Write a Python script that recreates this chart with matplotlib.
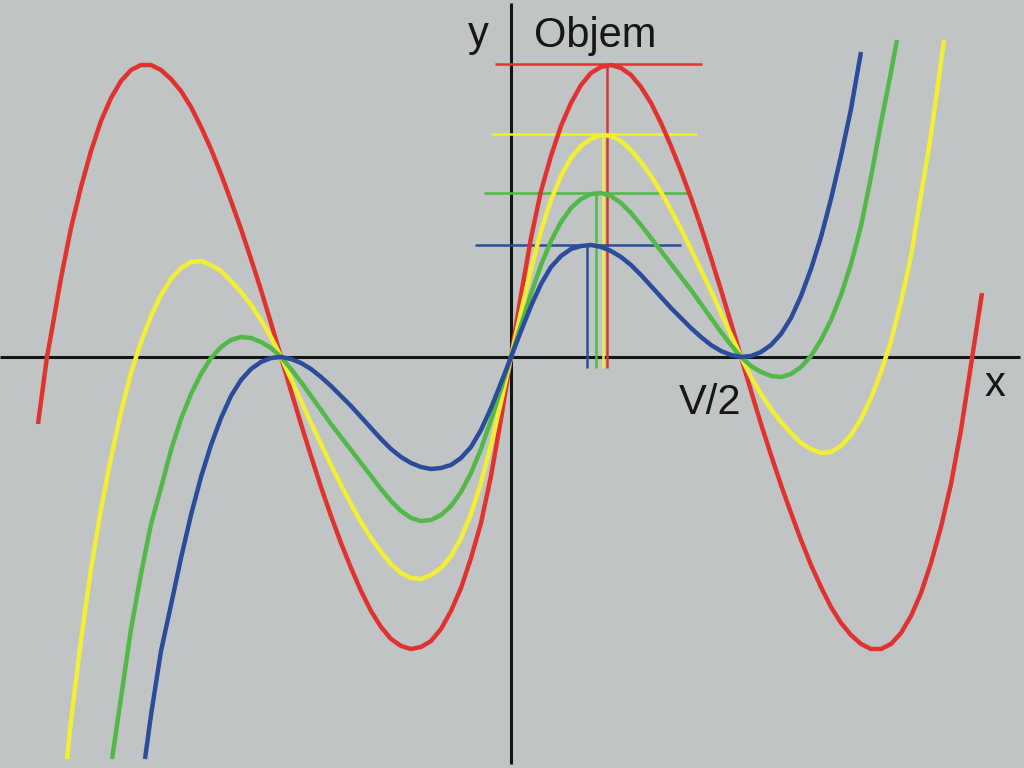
import matplotlib
matplotlib.use("Agg")
import matplotlib.pyplot as plt

# curve samples (x, y in chart units, origin where the axes cross, V/2 at x=230)
red_x = [-473, -464, -460, -450, -440, -430, -420, -410, -400, -390, -380, -370, -360, -350, -340, -330,
         -320, -310, -300, -290, -280, -270, -260, -250, -240, -230, -220, -210, -200, -190, -180, -170,
         -160, -150, -140, -130, -120, -110, -100, -90, -80, -70, -60, -50, -40, -30, -20, -10, 0,
         10, 20, 30, 40, 50, 60, 70, 80, 90, 100, 110, 120, 130, 140, 150, 160, 170, 180, 190, 200,
         210, 220, 230, 240, 250, 260, 270, 280, 290, 300, 310, 320, 330, 340, 350, 360, 370, 380, 390,
         400, 410, 420, 430, 440, 450, 460, 471]
red_y = [-67, 0, 22, 79, 129, 170, 206, 236, 259, 276, 287, 292, 292, 287, 278, 266,
         250, 230, 208, 183, 156, 128, 98, 67, 34, 0, -34, -67, -99, -130, -159, -186,
         -211, -234, -254, -270, -282, -289, -292, -290, -284, -272, -254, -231, -201, -166, -119, -62, 0,
         62, 119, 166, 201, 231, 254, 272, 284, 290, 292, 289, 282, 270, 254, 234, 211, 186, 159, 130, 99,
         67, 34, 0, -34, -67, -98, -128, -156, -183, -208, -230, -250, -266, -278, -287, -292, -292, -287, -276,
         -259, -236, -206, -170, -127, -73, -8, 64]

yellow_x = [-444, -440, -430, -420, -410, -400, -390, -380, -370, -360, -350, -340, -330, -320, -310, -300,
            -290, -280, -270, -260, -250, -240, -230, -220, -210, -200, -190, -180, -170, -160, -150, -140,
            -130, -120, -110, -100, -90, -80, -70, -60, -50, -40, -30, -20, -10, 0,
            10, 20, 30, 40, 50, 60, 70, 80, 90, 100, 110, 120, 130, 140, 150, 160, 170, 180, 190, 200,
            210, 220, 230, 240, 250, 260, 270, 280, 290, 300, 310, 320, 330, 340, 350, 360, 370, 380, 390,
            400, 410, 420, 430, 433]
yellow_y = [-402, -364, -283, -212, -152, -101, -55, -16, 15, 41, 62, 78, 89, 95, 96, 92,
            86, 76, 65, 52, 37, 20, 0, -22, -44, -66, -87, -108, -128, -147, -165, -181,
            -195, -207, -216, -221, -222, -218, -211, -199, -181, -157, -126, -88, -45, 0,
            45, 88, 126, 157, 181, 199, 211, 218, 222, 221, 216, 207, 195, 181, 165, 147, 128, 108, 87, 66,
            44, 22, 0, -20, -37, -52, -65, -76, -86, -92, -96, -95, -89, -78, -62, -41, -15, 16, 55,
            101, 162, 222, 295, 317]

green_x = [-399, -390, -380, -370, -360, -350, -340, -330, -320, -310, -300, -290, -280, -270, -260, -250,
           -240, -230, -220, -210, -200, -190, -180, -170, -160, -150, -140, -130, -120, -110, -100, -90,
           -80, -70, -60, -50, -40, -30, -20, -10, 0,
           10, 20, 30, 40, 50, 60, 70, 80, 90, 100, 110, 120, 130, 140, 150, 160, 170, 180, 190, 200,
           210, 220, 230, 240, 250, 260, 270, 280, 290, 300, 310, 320, 330, 340, 350, 360, 370, 380, 386]
green_y = [-402, -341, -272, -217, -167, -131, -93, -62, -37, -17, -1, 10, 17, 20, 19, 15,
           9, 0, -12, -25, -39, -53, -67, -80, -93, -106, -119, -132, -144, -154, -161, -164,
           -163, -158, -149, -135, -116, -92, -63, -32, 0,
           32, 63, 92, 116, 135, 149, 158, 163, 164, 161, 154, 144, 132, 119, 106, 93, 80, 67, 53, 39,
           25, 12, 0, -9, -15, -19, -20, -17, -10, 1, 17, 37, 62, 93, 131, 180, 234, 285, 317]

blue_x = [-366, -360, -350, -340, -330, -320, -310, -300, -290, -280, -270, -260, -250, -240, -230, -220,
          -210, -200, -190, -180, -170, -160, -150, -140, -130, -120, -110, -100, -90, -80, -70, -60,
          -50, -40, -30, -20, -10, 0,
          10, 20, 30, 40, 50, 60, 70, 80, 90, 100, 110, 120, 130, 140, 150, 160, 170, 180, 190, 200,
          210, 220, 230, 240, 250, 260, 270, 280, 290, 300, 310, 320, 330, 340, 350]
blue_y = [-402, -358, -294, -248, -201, -158, -120, -88, -61, -39, -23, -12, -5, -1, 0, -2,
          -6, -12, -20, -29, -39, -49, -60, -71, -82, -92, -100, -106, -110, -112, -111, -108,
          -101, -90, -73, -51, -26, 0,
          26, 51, 73, 90, 101, 108, 111, 112, 110, 106, 100, 92, 82, 71, 60, 49, 39, 29, 20, 12,
          6, 2, 0, 1, 5, 12, 23, 39, 61, 88, 120, 158, 201, 248, 305]

# maximum markers: peak x, peak y, left and right end of the level line
peak_x = [96, 92, 85, 76]
peak_y = [293, 223, 164, 112]
level_left = [-16, -20, -27, -36]
level_right = [191, 186, 178, 170]

colors = ["#e0322e", "#f2ee34", "#52b848", "#2b4b9b"]
bg = "#c1c4c5"

fig = plt.figure(figsize=(10.24, 7.68), dpi=100, facecolor=bg)
ax = fig.add_axes([0, 0, 1, 1])
ax.set_facecolor(bg)
ax.set_xlim(-511, 513)
ax.set_ylim(-411, 357)
ax.axis("off")

# axes
ax.plot([-511, 509], [0, 0], color="#141414", lw=2.2, solid_capstyle="butt", zorder=1)
ax.plot([0, 0], [-407, 354], color="#141414", lw=2.2, solid_capstyle="butt", zorder=1)

for px, py, l, r, c in zip(peak_x, peak_y, level_left, level_right, colors):
    ax.plot([l, r], [py, py], color=c, lw=1.8, solid_capstyle="butt", zorder=2)
    ax.plot([px, px], [-11, py], color=c, lw=1.8, solid_capstyle="butt", zorder=2)

curves = [(red_x, red_y), (yellow_x, yellow_y), (green_x, green_y), (blue_x, blue_y)]
for (xs, ys), c in zip(curves, colors):
    ax.plot(xs, ys, color=c, lw=3.2, solid_joinstyle="round", solid_capstyle="butt", zorder=3)

txt = dict(color="#161616", fontsize=30, family="Liberation Sans", va="baseline")
ax.text(-33, 311, "y", ha="center", **txt)
ax.text(23, 310, "Objem", ha="left", **txt)
ax.text(168, -57, "V/2", ha="left", **txt)
ax.text(474, -39, "x", ha="left", **txt)

fig.savefig("out.png", dpi=100, facecolor=bg)
